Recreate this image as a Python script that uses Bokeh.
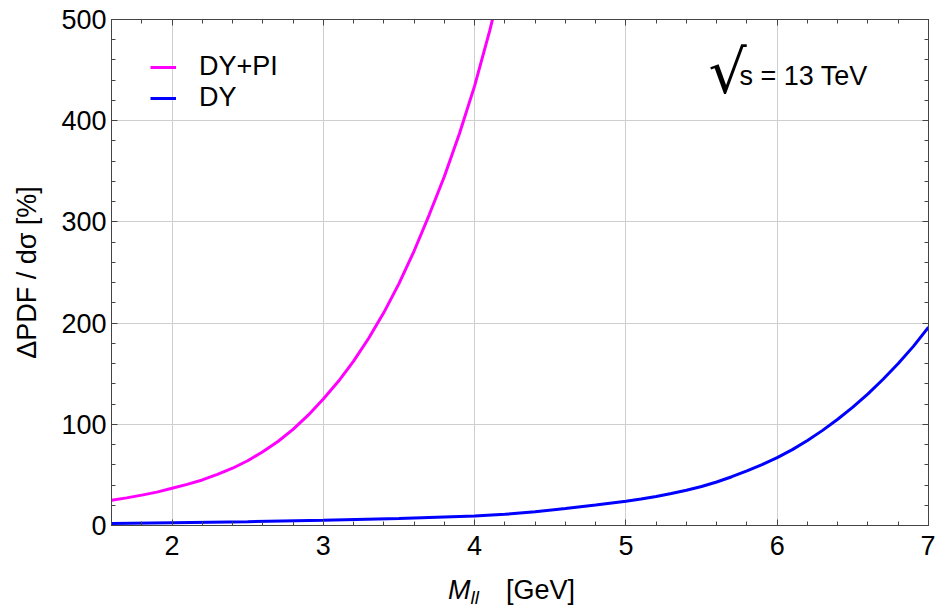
import numpy as np
from bokeh.plotting import figure
from bokeh.layouts import column
from bokeh.models import (Range1d, LinearAxis, SingleIntervalTicker, Legend, LegendItem,
                          Label, CustomJSTickFormatter, Div)
from bokeh.embed import file_html
from bokeh.resources import INLINE

# ---- data ----
mass_dy_pi = [1.6, 1.7, 1.8, 1.9, 2.0, 2.1, 2.2, 2.3, 2.4, 2.5, 2.6, 2.7, 2.8, 2.9, 3.0,
              3.1, 3.2, 3.3, 3.4, 3.5, 3.6, 3.7, 3.8, 3.9, 4.0, 4.1, 4.2]
dpdf_dy_pi = [25, 27.3, 30, 33, 36.8, 40.6, 45, 50.5, 56.6, 64, 72.8, 83, 95, 109, 125,
              142.5, 162.4, 185, 210.4, 239, 271.2, 307, 344.8, 387.4, 434.4, 489, 550]

mass_dy = [1.6, 2.0, 2.5, 3.0, 3.5, 4.0, 4.2, 4.4, 4.6, 4.8, 5.0, 5.1, 5.2, 5.3, 5.4, 5.5,
           5.6, 5.7, 5.8, 5.9, 6.0, 6.1, 6.2, 6.3, 6.4, 6.5, 6.6, 6.7, 6.8, 6.9, 7.0]
dpdf_dy = [2, 2.8, 3.8, 5.2, 7, 9.5, 11, 13.5, 16.8, 20.3, 24, 26.2, 28.7, 31.6, 34.8, 38.6,
           43, 48.2, 54, 60.2, 67, 75, 84, 94, 105, 117, 130, 144.5, 160, 177, 196]

series_labels = ["DY+PI", "DY"]
FONT = "Liberation Sans"

p = figure(width=935, height=575, x_range=Range1d(1.6, 7), y_range=Range1d(0, 500),
           output_backend="svg", toolbar_location=None,
           min_border_left=111, min_border_right=7, min_border_top=19, min_border_bottom=50)
p.background_fill_color = "white"
p.border_fill_color = "white"
p.outline_line_color = "#333333"

xt = SingleIntervalTicker(interval=1, num_minor_ticks=5)
yt = SingleIntervalTicker(interval=100, num_minor_ticks=5)
p.xaxis.ticker = xt
p.yaxis.ticker = yt
p.xgrid.ticker = xt
p.ygrid.ticker = yt
for g in (p.xgrid, p.ygrid):
    g.grid_line_color = "#cfcfcf"
    g.grid_line_width = 1

def style_axis(ax):
    ax.major_tick_in = 6
    ax.major_tick_out = 0
    ax.minor_tick_in = 4
    ax.minor_tick_out = 0
    ax.axis_line_color = "#444444"
    ax.major_tick_line_color = "#444444"
    ax.minor_tick_line_color = "#444444"
    ax.major_label_text_font = FONT
    ax.major_label_text_font_size = "27px"
    ax.major_label_text_color = "black"

for ax in (p.xaxis[0], p.yaxis[0]):
    style_axis(ax)
p.xaxis.major_label_standoff = 10
p.yaxis.major_label_standoff = 5

p.yaxis.axis_label = "ΔPDF / dσ [%]"
p.yaxis.axis_label_text_font = FONT
p.yaxis.axis_label_text_font_style = "normal"
p.yaxis.axis_label_text_font_size = "27px"
p.yaxis.axis_label_text_color = "black"
p.yaxis.axis_label_standoff = 16

blank = CustomJSTickFormatter(code="return ''")
top = LinearAxis(ticker=xt, formatter=blank, major_label_standoff=0)
right = LinearAxis(ticker=yt, formatter=blank, major_label_standoff=0)
for ax in (top, right):
    style_axis(ax)
    ax.major_label_text_font_size = "1px"
p.add_layout(top, "above")
p.add_layout(right, "right")

r1 = p.line(mass_dy_pi, dpdf_dy_pi, line_color="#ff00ff", line_width=3)
r2 = p.line(mass_dy, dpdf_dy, line_color="#0000ff", line_width=3)

legend = Legend(items=[LegendItem(label=series_labels[0], renderers=[r1]),
                       LegendItem(label=series_labels[1], renderers=[r2])],
                location=(39, 412), border_line_color=None, background_fill_alpha=0,
                label_text_font=FONT, label_text_font_size="27px", label_text_color="black",
                glyph_width=26, glyph_height=20, label_standoff=23, spacing=0,
                padding=10, margin=0, label_height=31)
p.add_layout(legend)

# sqrt(s) = 13 TeV
p.add_layout(Label(x=597, y=454, x_units="screen", y_units="screen", text="√",
                   text_font="DejaVu Sans", text_font_size="60px",
                   text_baseline="alphabetic", text_color="black"))
p.add_layout(Label(x=628, y=450, x_units="screen", y_units="screen", text="s = 13 TeV",
                   text_font=FONT, text_font_size="27px",
                   text_baseline="alphabetic", text_color="black"))

xlabel = Div(
    text=('<div style="margin-left:448px; font-family:\'Liberation Sans\'; font-size:27px; '
          'line-height:30px; color:black; white-space:nowrap;">'
          '<i>M</i><sub style="font-size:19px; vertical-align:-5px;"><i>ll</i></sub>'
          '<span style="margin-left:27px;">[GeV]</span></div>'),
    width=935, height=32, margin=0)

layout = column(p, xlabel, spacing=0)
open("out.html", "w").write(file_html(layout, INLINE))
